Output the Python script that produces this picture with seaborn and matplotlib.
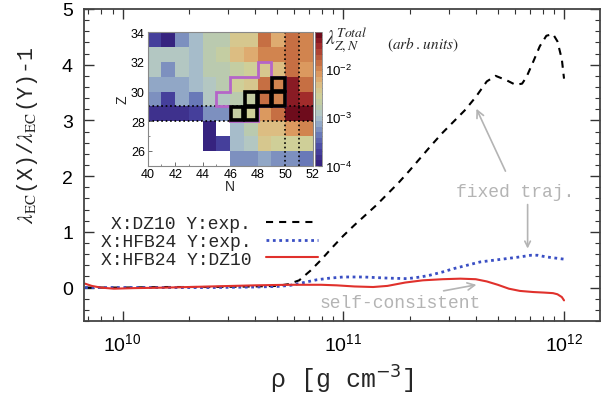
import numpy as np
import pandas as pd
import matplotlib
matplotlib.use('Agg')
import matplotlib.pyplot as plt
import matplotlib.colors as colors
from matplotlib.patches import Rectangle, Polygon
from matplotlib.ticker import MultipleLocator, LogLocator, NullFormatter
import seaborn as sns

sns.set_style('ticks')
plt.rcParams['font.family'] = ['Liberation Sans', 'DejaVu Sans']
plt.rcParams['axes.linewidth'] = 1.3

MONO = 'Liberation Mono'

# %%
# main curves: log10(rho) and lambda_EC(X)/lambda_EC(Y) - 1
logrho_dz10_exp = [9.83, 10.0, 10.2, 10.4, 10.6, 10.7, 10.75, 10.8, 10.85, 10.9, 10.95, 11.0,
                   11.05, 11.1, 11.15, 11.2, 11.25, 11.3, 11.35, 11.4, 11.45, 11.5, 11.55, 11.6,
                   11.65, 11.69, 11.74, 11.78, 11.81, 11.83, 11.86, 11.89, 11.92, 11.95, 11.97,
                   11.99, 12.0]
ratio_dz10_exp = [0.0, 0.0, 0.01, 0.01, 0.02, 0.03, 0.06, 0.13, 0.3, 0.5, 0.72, 0.93,
                  1.12, 1.3, 1.48, 1.68, 1.88, 2.1, 2.33, 2.56, 2.78, 2.98, 3.18, 3.42,
                  3.7, 3.8, 3.72, 3.64, 3.66, 3.78, 4.05, 4.33, 4.52, 4.55, 4.42,
                  4.1, 3.75]

logrho_hfb24_exp = [9.83, 10.0, 10.2, 10.4, 10.6, 10.7, 10.76, 10.82, 10.88, 10.94, 11.0, 11.09,
                    11.2, 11.29, 11.35, 11.39, 11.45, 11.5, 11.56, 11.62, 11.68, 11.74, 11.8,
                    11.85, 11.88, 11.92, 11.96, 12.0]
ratio_hfb24_exp = [0.0, 0.0, 0.0, 0.0, 0.01, 0.02, 0.04, 0.09, 0.14, 0.17, 0.19, 0.19,
                   0.17, 0.16, 0.19, 0.22, 0.28, 0.34, 0.4, 0.46, 0.49, 0.52, 0.55,
                   0.58, 0.58, 0.55, 0.53, 0.51]

logrho_hfb24_dz10 = [9.83, 9.86, 9.9, 9.96, 10.05, 10.2, 10.4, 10.6, 10.75, 10.9, 10.97, 11.05,
                     11.135, 11.2, 11.28, 11.36, 11.45, 11.53, 11.6, 11.65, 11.7, 11.75, 11.8,
                     11.86, 11.91, 11.95, 11.97, 11.99, 12.0]
ratio_hfb24_dz10 = [0.07, 0.03, 0.0, -0.02, -0.01, 0.0, 0.02, 0.04, 0.05, 0.05, 0.04, 0.02,
                    0.01, 0.03, 0.09, 0.13, 0.15, 0.16, 0.15, 0.11, 0.05, -0.02, -0.06,
                    -0.08, -0.09, -0.10, -0.12, -0.17, -0.23]

# inset: total EC rate per nucleus, rows Z=33 (top) down to Z=25, columns N=40..51
n_edges = np.arange(40, 53)
z_edges = np.arange(25, 35)
lam_rows_top_down = [
    [2.1e-4, 1.2e-4, 5.9e-4, 9e-4, 1.4e-3, 1.6e-3, 4e-3, 4e-3, 1.5e-2, 6.1e-3, 1.5e-2, 9.5e-3],
    [1.1e-3, 1.1e-3, 1.1e-3, 9e-4, 1.4e-3, 2e-3, 5e-3, 6e-3, 9.5e-3, 9e-3, 1.5e-2, 1e-2],
    [1.1e-3, 6e-4, 1.1e-3, 9e-4, 1.4e-3, 1.5e-3, 2e-3, 3e-3, 3.5e-3, 5e-3, 1.3e-2, 7e-3],
    [7e-4, 7e-4, 7e-4, 1e-3, 1.2e-3, 1.5e-3, 3e-3, 3.5e-3, 1.3e-2, 1.1e-2, 3.5e-2, 1.4e-2],
    [5e-4, 2e-4, 7e-4, 4e-4, 1.1e-3, 1.2e-3, 1.8e-3, 2.3e-3, 1.2e-2, 1.1e-2, 4e-2, 3e-2],
    [1.5e-4, 1.5e-4, 1.5e-4, 2.2e-4, 5e-4, 5.5e-4, 2.2e-3, 2.4e-3, 8e-3, 1.4e-2, 4.5e-2, 4.5e-2],
    [np.nan, np.nan, np.nan, np.nan, 1.2e-4, np.nan, 1e-3, 1.6e-3, 5e-3, 5e-3, 7e-3, 9e-3],
    [np.nan, np.nan, np.nan, np.nan, 1.2e-4, 2.2e-4, 1e-3, 1.1e-3, 3.5e-3, 3e-3, 2.6e-3, 3e-3],
    [np.nan, np.nan, np.nan, np.nan, np.nan, np.nan, 5e-4, 5e-4, 8e-4, 6e-4, 5e-4, 4.5e-4],
]
# nuclei outlined in magenta (N, Z corners) and the highlighted cells (N, Z)
magenta_n = [46, 48, 48, 50, 50, 49, 49, 48, 48, 46, 46, 45, 45, 46]
magenta_z = [28, 28, 29, 29, 31, 31, 32, 32, 31, 31, 30, 30, 29, 29]
box_n = [46, 47, 47, 48, 49, 49]
box_z = [28, 28, 29, 29, 29, 30]

# %%
fig = plt.figure(figsize=(6.02, 4.02), dpi=100)
ax = fig.add_axes([84 / 602, 80 / 402, 516 / 602, 312 / 402])

curves = [
    ('X:DZ10 Y:exp.', logrho_dz10_exp, ratio_dz10_exp, 'black', (0, (3.4, 2.9)), 1.5),
    ('X:HFB24 Y:exp.', logrho_hfb24_exp, ratio_hfb24_exp, '#3a4fc4', (0, (1.0, 1.3)), 2.0),
    ('X:HFB24 Y:DZ10', logrho_hfb24_dz10, ratio_hfb24_dz10, '#e0312c', '-', 1.5),
]
for label, lr, r, col, ls, lw in curves:
    df = pd.DataFrame({'rho': 10 ** np.array(lr), 'ratio': r})
    sns.lineplot(data=df, x='rho', y='ratio', ax=ax, color=col, linestyle=ls,
                 linewidth=lw, label=label, errorbar=None, sort=False)

ax.set_xscale('log')
ax.set_xlim(10 ** 9.825, 10 ** 12.163)
ax.set_ylim(-0.6, 5)
ax.xaxis.set_major_locator(LogLocator(base=10, numticks=10))
ax.xaxis.set_minor_locator(LogLocator(base=10, subs=np.arange(2, 10), numticks=20))
ax.xaxis.set_minor_formatter(NullFormatter())
ax.yaxis.set_major_locator(MultipleLocator(1))
ax.yaxis.set_minor_locator(MultipleLocator(0.2))
ax.tick_params(which='both', direction='in', top=True, right=True, colors='#333333',
               labelcolor='black', labelsize=14)
ax.tick_params(which='major', length=7, width=1.0, pad=8)
ax.tick_params(which='minor', length=3.5, width=0.8)
for s in ax.spines.values():
    s.set_color('#444444')

ax.set_xlabel('ρ [g cm$^{-3}$]', fontsize=18, fontfamily=MONO, math_fontfamily='dejavusans', labelpad=6)
ax.set_ylabel(r'$\lambda_{\rm EC}$(X)/$\lambda_{\rm EC}$(Y)-1', fontsize=15.5, fontfamily=MONO,
              math_fontfamily='stix')
ax.yaxis.set_label_coords(-0.085, 0.6)

leg = ax.legend(loc='upper right', bbox_to_anchor=(318 / 602, (402 - 216) / 402),
                bbox_transform=fig.transFigure, markerfirst=False, frameon=False,
                prop={'family': MONO, 'size': 13}, handlelength=2.9, handletextpad=0.8,
                labelspacing=0.05, borderpad=0, borderaxespad=0)

# annotations
gray = '#b4b4b4'
ax.annotate('fixed traj.', xy=(10 ** 11.603, 3.21), xytext=(10 ** 11.778, 1.72),
            ha='center', va='center', color=gray, fontsize=13, fontfamily=MONO,
            arrowprops=dict(arrowstyle='->', color=gray, lw=1.2, shrinkA=7, shrinkB=0))
ax.annotate('', xy=(10 ** 11.835, 0.70), xytext=(10 ** 11.835, 1.49),
            arrowprops=dict(arrowstyle='->', color=gray, lw=1.2, shrinkA=0, shrinkB=0))
ax.annotate('self-consistent', xy=(10 ** 11.603, 0.05), xytext=(10 ** 11.257, -0.27),
            ha='center', va='center', color=gray, fontsize=13, fontfamily=MONO,
            arrowprops=dict(arrowstyle='->', color=gray, lw=1.2, shrinkA=0, shrinkB=0,
                            relpos=(0.66, 1.0)))

# %%
# inset map of EC rates
cmap = colors.LinearSegmentedColormap.from_list('ec', [
    (0.00, '#36237f'), (0.12, '#4b4aa5'), (0.22, '#6a7ab8'), (0.30, '#8fa5c6'),
    (0.37, '#b0c6cc'), (0.45, '#bccba8'), (0.52, '#cfcf98'), (0.60, '#dcc086'),
    (0.68, '#dfa064'), (0.76, '#cc7a48'), (0.84, '#b85438'), (0.92, '#a0282a'),
    (1.00, '#6e0c1c')], N=24)

axin = fig.add_axes([147.7 / 602, (402 - 166.7) / 402, 165 / 602, 133.4 / 402])
lam = np.ma.masked_invalid(np.array(lam_rows_top_down)[::-1])
mesh = axin.pcolormesh(n_edges, z_edges, lam, cmap=cmap,
                       norm=colors.LogNorm(vmin=1e-4, vmax=10 ** -1.25))
for zz in (28, 29):
    axin.axhline(zz, color='black', ls=':', lw=1.2)
for nn in (50, 51):
    axin.axvline(nn, color='black', ls=':', lw=1.2)
axin.add_patch(Polygon(np.column_stack([magenta_n, magenta_z]), closed=True, fill=False,
                       ec='#b565c8', lw=2.0, zorder=4))
for nn, zz in zip(box_n, box_z):
    axin.add_patch(Rectangle((nn + 0.05, zz + 0.05), 0.9, 0.9, fill=False, ec='black',
                             lw=2.6, zorder=5))
axin.set_xlim(40, 52)
axin.set_ylim(25, 34)
axin.xaxis.set_major_locator(MultipleLocator(2))
axin.xaxis.set_minor_locator(MultipleLocator(1))
axin.yaxis.set_major_locator(MultipleLocator(2))
axin.yaxis.set_minor_locator(MultipleLocator(1))
axin.tick_params(which='both', direction='in', labelsize=9, pad=2, colors='#555555',
                 labelcolor='black')
axin.tick_params(which='major', length=3, width=0.6)
axin.tick_params(which='minor', length=1.5, width=0.5)
for s in axin.spines.values():
    s.set_color('#888888')
    s.set_linewidth(0.8)
axin.set_xlabel('N', fontsize=10, labelpad=-1)
axin.set_ylabel('Z', fontsize=10, labelpad=1)

cax = fig.add_axes([315 / 602, (402 - 166.7) / 402, 7 / 602, 133.4 / 402])
cb = fig.colorbar(mesh, cax=cax)
cb.set_ticks([1e-4, 1e-3, 1e-2])
cb.ax.tick_params(which='both', direction='in', labelsize=9.5, pad=2, colors='#555555',
                  labelcolor='black')
cb.ax.tick_params(which='major', length=3)
cb.ax.tick_params(which='minor', length=1.5)
cb.outline.set_linewidth(0.6)
cb.outline.set_edgecolor('#888888')

fig.text(325 / 602, (402 - 40) / 402, r'$\lambda^{Total}_{Z,N}$', fontsize=14,
         math_fontfamily='stix', va='center', ha='left')
fig.text(387 / 602, (402 - 45) / 402, r'$(arb\,.\,units)$', fontsize=11,
         math_fontfamily='stix', va='center', ha='left')

fig.savefig('out.png', dpi=100)
